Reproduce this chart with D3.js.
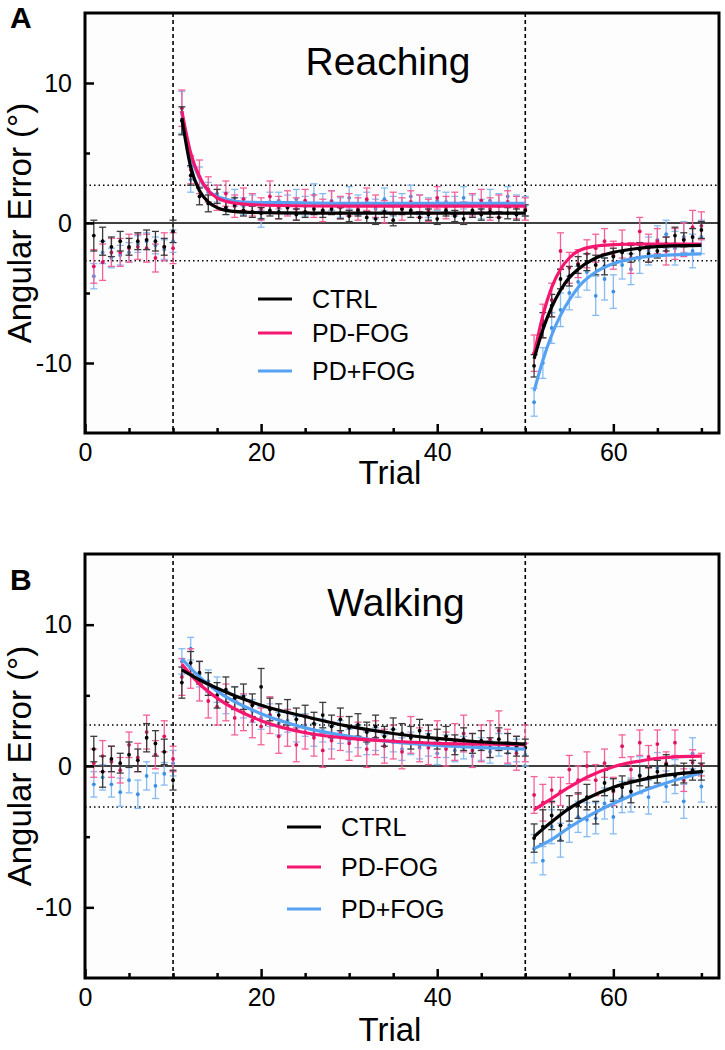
<!DOCTYPE html>
<html>
<head>
<meta charset="utf-8">
<script src="https://cdn.jsdelivr.net/npm/d3@7"></script>
<style>
  body { margin: 0; background: #fff; }
  svg { font-family: "Liberation Sans", Arial, sans-serif; }
</style>
</head>
<body>
<div id="chart"></div>
<script>
// trials 1..70
const trials = d3.range(1, 71);
const groups = ['CTRL', 'PD-FOG', 'PD+FOG'];

// ---- Reaching (panel A), mean and SEM per trial ----
const reachCtrl = [
  -0.9,-1.3,-1.7,-1.3,-1.7,-1.3,-1.2,-1.3,-1.7,-0.6,
  7.3,3.4,1.9,1.4,1.9,1.1,1.3,0.9,0.8,0.7,
  0.9,0.8,1.1,0.6,0.8,1.0,0.9,1.0,0.7,0.5,
  0.9,0.4,0.3,0.8,0.2,1.0,0.9,0.4,0.6,0.3,
  0.9,0.5,0.3,0.9,0.6,0.8,0.4,0.7,0.6,0.9,
  -10.2,-7.3,-5.9,-4.0,-3.8,-3.0,-2.8,-3.0,-3.1,-2.4,
  -2.1,-2.2,-1.9,-2.2,-2.0,-1.5,-0.9,-1.2,-1.0,-0.5];
const reachCtrlSem = [
  1.1,1.0,0.7,0.7,0.6,0.6,0.7,0.7,0.6,0.8,
  1.0,0.7,0.6,0.6,0.5,0.5,0.5,0.4,0.4,0.4,
  0.4,0.5,0.4,0.4,0.4,0.4,0.5,0.4,0.4,0.4,
  0.4,0.4,0.4,0.4,0.4,0.4,0.5,0.4,0.4,0.4,
  0.4,0.4,0.4,0.5,0.4,0.4,0.4,0.4,0.4,0.4,
  0.8,0.9,0.8,0.7,0.7,0.6,0.6,0.7,0.6,0.6,
  0.6,0.6,0.5,0.6,0.5,0.5,0.6,0.5,0.6,0.6];
const reachNoFog = [
  -3.1,-2.8,-2.1,-2.1,-1.8,-1.7,-1.8,-2.5,-1.7,-1.8,
  8.2,3.8,3.3,2.4,1.8,2.1,1.2,1.7,1.3,1.0,
  1.9,1.1,1.4,1.0,1.6,1.2,0.9,1.5,1.1,1.3,
  1.0,1.7,1.2,0.8,1.4,1.0,1.5,1.2,0.9,1.8,
  1.1,1.4,0.7,1.3,1.6,1.0,1.2,1.5,1.1,1.0,
  -9.3,-7.0,-5.5,-2.0,-3.2,-2.9,-2.2,-1.8,-1.3,-2.3,
  -1.5,-2.5,-0.6,-1.8,-1.3,-2.0,-1.5,-1.2,-0.3,-0.2];
const reachNoFogSem = [
  1.2,1.3,1.0,1.0,1.0,0.9,1.0,1.0,1.0,1.1,
  1.3,1.0,1.2,0.9,0.9,0.9,0.8,0.8,0.8,0.8,
  1.1,0.8,0.9,0.8,0.8,0.8,0.8,0.8,0.8,0.8,
  0.8,0.8,0.8,0.8,0.8,0.8,0.8,0.8,0.8,0.8,
  0.8,0.8,0.8,0.8,0.8,0.8,0.8,0.8,0.8,0.8,
  1.3,1.2,1.2,1.3,1.1,1.0,1.0,1.0,0.9,1.0,
  1.0,1.1,1.0,1.0,0.9,1.0,1.1,1.2,1.2,1.0];
const reachFog = [
  -3.8,-2.1,-2.5,-2.3,-2.1,-1.5,-1.3,-1.6,-1.9,-1.3,
  7.9,3.1,3.3,2.2,2.1,1.6,1.8,1.2,1.4,0.3,
  1.5,1.6,1.3,1.7,1.2,2.0,1.4,1.6,1.1,1.8,
  1.3,1.5,1.0,1.7,1.2,1.4,1.9,1.3,1.1,1.6,
  1.5,1.2,1.8,1.3,1.0,1.6,1.4,1.9,1.3,1.2,
  -12.8,-10.0,-7.5,-6.2,-5.0,-4.2,-3.5,-5.2,-4.0,-4.9,
  -3.0,-3.3,-2.5,-2.0,-1.2,-0.8,-1.8,-1.0,-2.0,-1.0];
const reachFogSem = [
  0.9,0.8,0.7,0.7,0.7,0.6,0.6,0.6,0.7,0.8,
  1.5,0.9,0.7,0.7,0.6,0.6,0.6,0.6,0.6,0.6,
  0.7,0.6,0.7,0.7,0.7,0.8,0.7,0.7,0.7,0.8,
  0.7,0.7,0.7,0.8,0.7,0.7,0.8,0.7,0.7,0.7,
  0.7,0.7,0.8,0.7,0.7,0.8,0.7,0.7,0.7,0.7,
  1.0,1.1,1.1,1.2,1.2,1.1,1.3,1.4,1.5,1.2,
  1.0,1.1,1.1,1.0,1.0,1.0,1.2,1.1,1.2,1.2];

// fitted curves
const reachFitTrialsEarly = [11,12,13,14,15,16,18,22,30,40,50];
const reachCtrlFitEarly   = [7.5,4.0,2.3,1.5,1.1,0.9,0.78,0.72,0.7,0.7,0.7];
const reachNoFogFitEarly  = [8.0,5.0,3.3,2.3,1.8,1.55,1.35,1.25,1.2,1.2,1.2];
const reachFogFitEarly    = [7.8,4.8,3.2,2.3,1.9,1.7,1.5,1.45,1.4,1.4,1.4];
const reachFitTrialsLate  = [51,52,53,54,55,56,58,60,63,66,70];
const reachCtrlFitLate    = [-9.7,-7.6,-6.0,-4.8,-3.9,-3.3,-2.5,-2.1,-1.8,-1.65,-1.6];
const reachNoFogFitLate   = [-9.4,-6.6,-4.6,-3.3,-2.5,-2.0,-1.65,-1.55,-1.5,-1.5,-1.5];
const reachFogFitLate     = [-12.0,-9.8,-8.0,-6.6,-5.5,-4.6,-3.5,-2.9,-2.45,-2.3,-2.2];

// ---- Walking (panel B) ----
const walkCtrl = [
  1.2,-0.4,0.5,0.2,0.8,0.4,2.0,1.6,1.0,-1.0,
  5.9,7.3,6.6,5.8,5.0,5.4,4.8,4.9,4.3,5.6,
  4.0,3.6,3.8,3.3,3.5,3.0,3.6,2.8,3.3,2.7,
  2.9,2.4,2.8,2.1,2.6,2.3,2.0,2.5,2.2,1.9,
  2.1,1.5,1.9,1.6,1.8,1.3,1.9,1.6,1.4,1.3,
  -5.1,-4.3,-3.5,-4.2,-3.0,-2.8,-2.2,-3.3,-1.2,-1.7,
  -1.5,-1.8,-0.7,-0.8,-0.4,0.1,-0.65,-0.5,-0.3,-0.4];
const walkCtrlSem = [
  0.9,1.1,0.9,0.7,0.9,0.8,1.0,0.9,0.9,0.7,
  1.1,0.8,0.8,0.8,0.9,0.9,0.8,0.9,0.8,1.3,
  0.8,0.8,0.9,0.8,0.8,0.8,0.9,0.8,0.8,0.8,
  0.8,0.7,0.8,0.7,0.8,0.7,0.8,0.8,0.7,0.7,
  0.7,0.7,0.8,0.7,0.7,0.7,0.8,0.7,0.7,0.6,
  1.0,1.2,1.0,1.1,0.9,0.9,0.9,0.8,0.9,0.8,
  0.8,0.8,0.7,0.7,0.8,0.7,0.7,0.7,0.7,0.6];
const walkNoFog = [
  0.2,0.7,0.3,-0.3,1.5,0.6,2.4,0.8,2.1,0.5,
  6.3,6.9,6.0,4.6,4.2,4.5,3.4,3.8,3.2,2.8,
  3.6,2.1,2.7,1.5,2.4,2.0,1.1,1.8,2.3,1.6,
  1.9,1.2,2.0,1.4,1.7,1.0,2.2,1.5,1.3,1.9,
  1.2,1.7,2.3,1.1,1.6,1.9,2.5,1.4,0.9,1.6,
  -2.05,-2.6,-1.7,-1.8,-0.25,-1.0,0.0,-1.0,0.2,-1.8,
  1.4,-0.25,1.65,0.65,1.55,0.2,1.65,-1.0,0.25,0.1];
const walkNoFogSem = [
  1.0,1.1,1.1,0.9,0.9,1.0,1.2,1.0,1.1,0.9,
  1.3,1.4,1.4,1.2,1.3,1.3,1.2,1.3,1.2,1.3,
  1.3,1.2,1.3,1.2,1.2,1.3,1.2,1.3,1.2,1.2,
  1.2,1.3,1.2,1.2,1.2,1.2,1.3,1.2,1.2,1.3,
  1.2,1.3,1.3,1.2,1.3,1.3,1.4,1.2,1.2,1.3,
  1.3,1.3,0.9,1.0,1.0,1.0,1.0,1.1,1.0,1.0,
  0.8,0.9,0.9,0.8,1.0,0.8,0.9,0.8,0.9,0.8];
const walkFog = [
  -1.3,-0.8,-1.3,-1.85,-1.0,-2.0,-0.7,-1.4,-0.55,0.2,
  7.4,8.3,6.5,6.0,5.4,4.5,4.8,4.2,3.9,3.4,
  3.6,3.0,3.2,2.6,2.9,2.2,2.5,2.0,2.4,1.8,
  2.1,1.6,1.9,1.4,1.8,1.2,1.6,1.3,1.5,0.9,
  1.4,1.1,1.3,0.7,1.2,1.0,1.5,0.9,1.1,0.8,
  -5.85,-6.7,-4.3,-5.25,-4.2,-3.6,-3.8,-3.7,-2.65,-3.6,
  -2.2,-2.05,-0.65,-2.2,-0.15,-1.45,-0.75,-2.5,0.9,-1.45];
const walkFogSem = [
  0.9,0.9,0.9,1.0,0.9,1.0,1.0,0.9,0.8,0.9,
  0.9,0.8,0.9,0.8,0.9,0.8,0.8,0.8,0.8,0.8,
  0.8,0.8,0.8,0.9,0.8,0.8,0.8,0.8,0.8,0.8,
  0.8,0.8,0.8,0.8,0.8,0.8,0.8,0.8,0.8,0.8,
  0.8,0.8,0.8,0.8,0.8,0.8,0.8,0.8,0.8,0.8,
  1.0,1.0,1.2,1.2,1.2,1.1,1.2,1.1,1.1,1.2,
  1.1,1.2,1.3,1.2,1.1,1.1,1.2,1.2,1.1,1.1];

const walkFitTrialsEarly = [11,13,15,20,25,30,35,40,45,50];
const walkCtrlFitEarly   = [6.8,6.1,5.5,4.3,3.5,2.8,2.3,1.95,1.7,1.55];
const walkNoFogFitEarly  = [7.2,5.8,4.8,3.2,2.35,1.95,1.75,1.6,1.55,1.5];
const walkFogFitEarly    = [7.6,6.3,5.3,3.7,2.7,2.1,1.7,1.45,1.3,1.2];
const walkFitTrialsLate  = [51,53,55,57,60,63,66,70];
const walkCtrlFitLate    = [-5.0,-3.95,-3.0,-2.3,-1.5,-1.0,-0.65,-0.4];
const walkNoFogFitLate   = [-3.1,-2.3,-1.5,-0.8,-0.05,0.35,0.6,0.7];
const walkFogFitLate     = [-5.85,-5.2,-4.35,-3.6,-2.65,-1.85,-1.2,-0.5];

const xTicksMajor = [0, 20, 40, 60];
const xTicksMinor = [5, 10, 15, 25, 30, 35, 45, 50, 55, 65, 70];
const yTicksMajor = [-10, 0, 10];
const yTicksMinor = [-5, 5];
const phaseBreaks = [10, 50];

const lineColor = {'CTRL': '#000000', 'PD-FOG': '#f5176f', 'PD+FOG': '#56a2f2'};
const barColor  = {'CTRL': '#3a3a3a', 'PD-FOG': '#f5609a', 'PD+FOG': '#86bbf2'};
const dotColor  = {'CTRL': '#000000', 'PD-FOG': '#e0125f', 'PD+FOG': '#3d8fe3'};

const svg = d3.select('#chart').append('svg')
  .attr('width', 725)
  .attr('height', 1050);

function drawPanel(p) {
  const x = d3.scaleLinear().domain([0, 72]).range([85, 719]);
  const y = d3.scaleLinear().domain([-15, 15]).range([p.bottom, p.top]);
  const g = svg.append('g');

  // background
  g.append('rect')
    .attr('x', x(0)).attr('y', y(15))
    .attr('width', x(72) - x(0)).attr('height', y(-15) - y(15))
    .attr('fill', '#fdfdfd');

  // reference lines
  g.selectAll('.band').data([p.band, -p.band]).enter().append('line')
    .attr('x1', x(0)).attr('x2', x(72))
    .attr('y1', d => y(d)).attr('y2', d => y(d))
    .attr('stroke', '#000').attr('stroke-width', 1.4)
    .attr('stroke-dasharray', '1.5,3');
  g.append('line')
    .attr('x1', x(0)).attr('x2', x(72))
    .attr('y1', y(0)).attr('y2', y(0))
    .attr('stroke', '#000').attr('stroke-width', 1.5);
  g.selectAll('.brk').data(phaseBreaks).enter().append('line')
    .attr('x1', d => x(d)).attr('x2', d => x(d))
    .attr('y1', y(15)).attr('y2', y(-15))
    .attr('stroke', '#000').attr('stroke-width', 1.6)
    .attr('stroke-dasharray', '4,3');

  // title
  g.append('text')
    .attr('x', p.titleX).attr('y', y(15) + 62)
    .attr('text-anchor', 'middle')
    .attr('font-size', 39)
    .text(p.title);

  // error bars and points; blue first, then pink, then black
  const order = ['PD+FOG', 'PD-FOG', 'CTRL'];
  order.forEach(grp => {
    const s = p.series[grp];
    const pts = trials.map((t, i) => ({t: t, m: s.mean[i], e: s.sem[i]}));
    const eb = g.append('g').attr('stroke', barColor[grp]).attr('stroke-width', 1.3);
    eb.selectAll('line.v').data(pts).enter().append('line')
      .attr('x1', d => x(d.t)).attr('x2', d => x(d.t))
      .attr('y1', d => y(d.m - d.e)).attr('y2', d => y(d.m + d.e));
    eb.selectAll('line.t').data(pts).enter().append('line')
      .attr('x1', d => x(d.t) - 3.5).attr('x2', d => x(d.t) + 3.5)
      .attr('y1', d => y(d.m + d.e)).attr('y2', d => y(d.m + d.e));
    eb.selectAll('line.b').data(pts).enter().append('line')
      .attr('x1', d => x(d.t) - 3.5).attr('x2', d => x(d.t) + 3.5)
      .attr('y1', d => y(d.m - d.e)).attr('y2', d => y(d.m - d.e));
    g.append('g').selectAll('circle').data(pts).enter().append('circle')
      .attr('cx', d => x(d.t)).attr('cy', d => y(d.m))
      .attr('r', 1.9)
      .attr('fill', dotColor[grp]);
  });

  // fitted curves
  const line = d3.line()
    .x(d => x(d[0])).y(d => y(d[1]))
    .curve(d3.curveMonotoneX);
  order.forEach(grp => {
    const s = p.series[grp];
    [[p.fitEarly, s.fitEarly], [p.fitLate, s.fitLate]].forEach(([tt, vv]) => {
      g.append('path')
        .datum(tt.map((t, i) => [t, vv[i]]))
        .attr('d', line)
        .attr('fill', 'none')
        .attr('stroke', lineColor[grp])
        .attr('stroke-width', 3.2);
    });
  });

  // axes, ticks pointing inward
  const xMaj = g.append('g').attr('transform', `translate(0,${y(-15)})`)
    .call(d3.axisBottom(x).tickValues(xTicksMajor).tickSize(-9).tickPadding(10));
  const xMin = g.append('g').attr('transform', `translate(0,${y(-15)})`)
    .call(d3.axisBottom(x).tickValues(xTicksMinor).tickSize(-5).tickFormat(''));
  const yMaj = g.append('g').attr('transform', `translate(${x(0)},0)`)
    .call(d3.axisLeft(y).tickValues(yTicksMajor).tickSize(-9).tickPadding(13)
      .tickFormat(d => d < 0 ? '-' + Math.abs(d) : d));
  const yMin = g.append('g').attr('transform', `translate(${x(0)},0)`)
    .call(d3.axisLeft(y).tickValues(yTicksMinor).tickSize(-5).tickFormat(''));
  [xMaj, xMin, yMaj, yMin].forEach(a => {
    a.select('.domain').remove();
    a.selectAll('.tick line').attr('stroke', '#000').attr('stroke-width', 2.5);
    a.selectAll('.tick text').attr('font-size', 25).attr('fill', '#000')
      .attr('font-family', '"Liberation Sans", Arial, sans-serif');
  });

  // frame
  g.append('rect')
    .attr('x', x(0)).attr('y', y(15))
    .attr('width', x(72) - x(0)).attr('height', y(-15) - y(15))
    .attr('fill', 'none').attr('stroke', '#000').attr('stroke-width', 3);

  // axis titles
  g.append('text')
    .attr('transform', `translate(31,${y(0)}) rotate(-90)`)
    .attr('text-anchor', 'middle')
    .attr('font-size', 33)
    .text('Angular Error (°)');
  g.append('text')
    .attr('x', 390).attr('y', p.xTitleY)
    .attr('text-anchor', 'middle')
    .attr('font-size', 33)
    .text('Trial');

  // panel letter
  g.append('text')
    .attr('x', 10).attr('y', p.letterY)
    .attr('font-size', 30).attr('font-weight', 'bold')
    .text(p.letter);

  // legend
  const leg = g.append('g');
  groups.forEach((grp, i) => {
    const ly = p.legendY[i];
    leg.append('line')
      .attr('x1', p.legendX).attr('x2', p.legendX + 34)
      .attr('y1', ly).attr('y2', ly)
      .attr('stroke', lineColor[grp]).attr('stroke-width', 3);
    leg.append('text')
      .attr('x', p.legendX + 54).attr('y', ly + 9)
      .attr('font-size', 25)
      .text(grp);
  });
}

drawPanel({
  letter: 'A', letterY: 28, title: 'Reaching', titleX: 388,
  top: 13, bottom: 433, band: 2.7, xTitleY: 484,
  legendX: 258, legendY: [299, 333, 371],
  fitEarly: reachFitTrialsEarly, fitLate: reachFitTrialsLate,
  series: {
    'CTRL':   {mean: reachCtrl,  sem: reachCtrlSem,  fitEarly: reachCtrlFitEarly,  fitLate: reachCtrlFitLate},
    'PD-FOG': {mean: reachNoFog, sem: reachNoFogSem, fitEarly: reachNoFogFitEarly, fitLate: reachNoFogFitLate},
    'PD+FOG': {mean: reachFog,   sem: reachFogSem,   fitEarly: reachFogFitEarly,   fitLate: reachFogFitLate}
  }
});

drawPanel({
  letter: 'B', letterY: 590, title: 'Walking', titleX: 396,
  top: 554, bottom: 978, band: 2.9, xTitleY: 1041,
  legendX: 287, legendY: [827, 867, 909],
  fitEarly: walkFitTrialsEarly, fitLate: walkFitTrialsLate,
  series: {
    'CTRL':   {mean: walkCtrl,  sem: walkCtrlSem,  fitEarly: walkCtrlFitEarly,  fitLate: walkCtrlFitLate},
    'PD-FOG': {mean: walkNoFog, sem: walkNoFogSem, fitEarly: walkNoFogFitEarly, fitLate: walkNoFogFitLate},
    'PD+FOG': {mean: walkFog,   sem: walkFogSem,   fitEarly: walkFogFitEarly,   fitLate: walkFogFitLate}
  }
});
</script>
</body>
</html>
